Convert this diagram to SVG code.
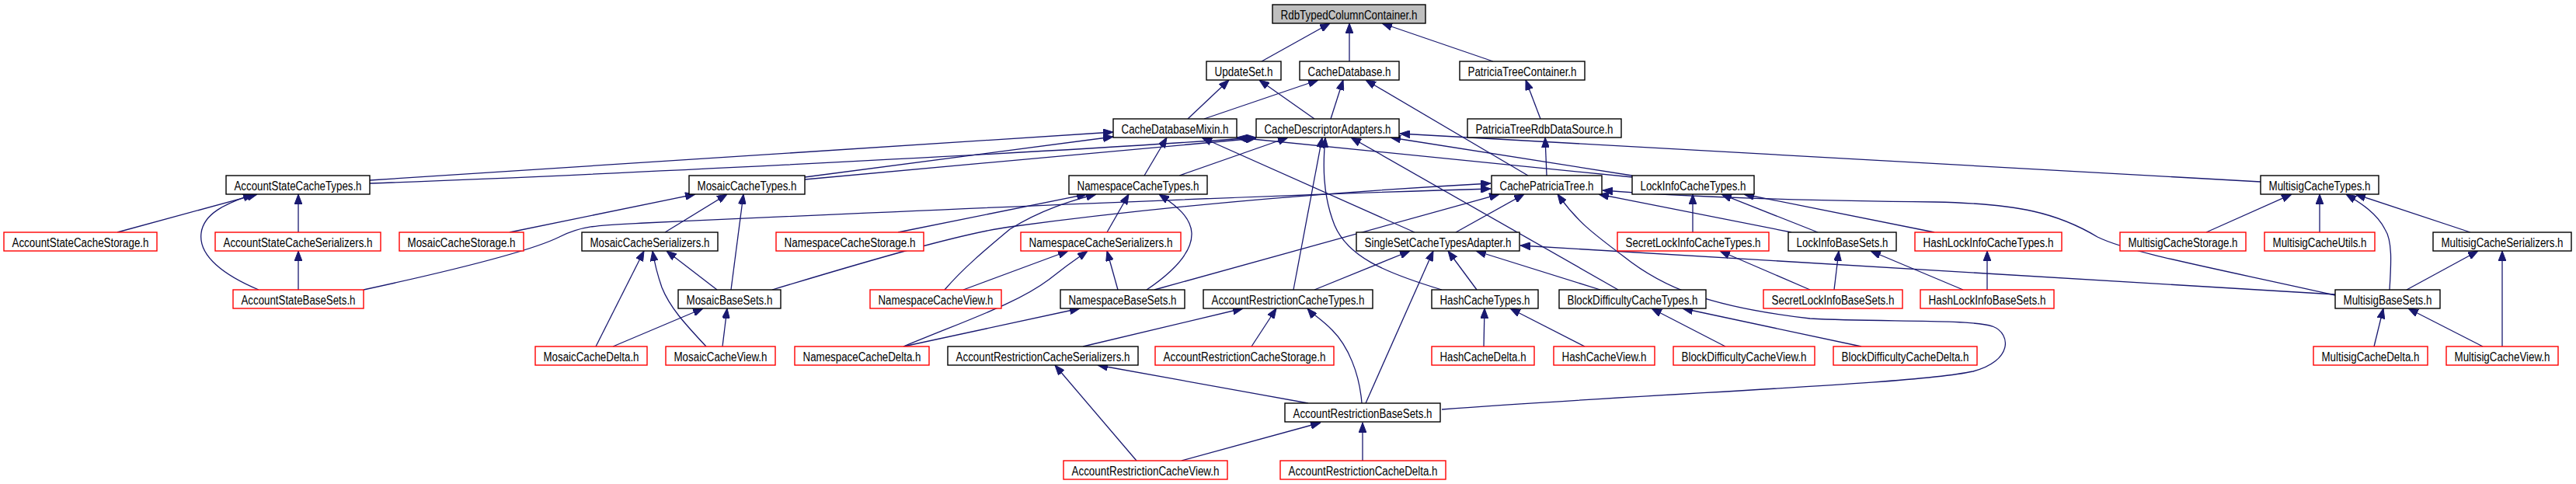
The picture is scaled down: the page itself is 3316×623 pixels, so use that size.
<svg xmlns="http://www.w3.org/2000/svg" width="3316" height="623" viewBox="0 0 3316 623">
<style>
.n rect{fill:#fff;stroke:#000;stroke-width:1.4}
.r rect{stroke:#f00}
.g rect{fill:#bfbfbf}
text{font-family:"Liberation Sans",Arial,Helvetica,sans-serif;font-size:16px;text-anchor:middle;fill:#000}
#edges path{fill:none;stroke:#191970;stroke-width:1.3;marker-end:url(#a)}
</style>
<defs>
<marker id="a" viewBox="0 0 13 10" refX="13" refY="5" markerWidth="13" markerHeight="10" markerUnits="userSpaceOnUse" orient="auto"><path d="M0,0L13,5L0,10z" fill="#191970" stroke="#191970" stroke-width="1"/></marker>
</defs>
<rect width="3316" height="623" fill="#fff"/>
<g id="edges">
<path d="M1624,79L1712,30"/>
<path d="M1737,79L1737,30"/>
<path d="M1922,79L1779,30"/>
<path d="M1529,153L1582,103"/>
<path d="M1692,153L1621,103"/>
<path d="M1550,153L1697,103"/>
<path d="M1713,153L1729,103"/>
<path d="M1967,226L1758,103"/>
<path d="M1983,153L1964,103"/>
<path d="M1991,226L1989,177"/>
<path d="M476,232L1433,170"/>
<path d="M476,236C700,228 1300,200 1617,177"/>
<path d="M1036,228L1433,176"/>
<path d="M1036,231L1617,178"/>
<path d="M1473,226L1502,177"/>
<path d="M1518,226L1658,177"/>
<path d="M2101,228L1592,177"/>
<path d="M2101,226L1790,177"/>
<path d="M2910,234L1802,172"/>
<path d="M1821,299L1547,177"/>
<path d="M1665,373L1702,177"/>
<path d="M1856,373C1780,350 1735,330 1718,290C1702,250 1703,210 1706,177"/>
<path d="M2083,373L1739,177"/>
<path d="M468,373C620,340 690,320 720,305C750,290 770,290 830,287C1200,270 1600,252 1919,243"/>
<path d="M994,373C1120,335 1240,300 1300,292C1500,265 1700,248 1919,236"/>
<path d="M1486,373L1930,250"/>
<path d="M1874,299L1962,250"/>
<path d="M1856,527C2150,505 2460,495 2540,478C2590,465 2590,430 2565,420C2530,410 2420,415 2330,410C2200,395 2140,370 2090,330C2050,300 2030,285 2005,250"/>
<path d="M2306,299L2058,250"/>
<path d="M3006,380C2850,345 2740,325 2700,305C2650,275 2600,262 2490,260C2300,258 2150,252 2063,245"/>
<path d="M2179,299L2179,250"/>
<path d="M2340,299L2216,250"/>
<path d="M2490,299L2245,250"/>
<path d="M151,299L331,250"/>
<path d="M333,373C290,355 255,330 259,300C262,275 290,262 326,250"/>
<path d="M384,299L384,250"/>
<path d="M384,373L384,323"/>
<path d="M656,299L895,250"/>
<path d="M856,299L936,250"/>
<path d="M941,373L957,250"/>
<path d="M923,373L858,323"/>
<path d="M767,446L829,323"/>
<path d="M909,446C880,415 862,395 852,370C845,350 842,335 840,323"/>
<path d="M789,446L905,397"/>
<path d="M930,446L936,397"/>
<path d="M1156,299L1399,250"/>
<path d="M1216,373C1240,345 1270,320 1300,295C1340,270 1380,258 1411,250"/>
<path d="M1425,299L1453,250"/>
<path d="M1476,373C1510,350 1535,325 1534,300C1533,280 1515,265 1492,250"/>
<path d="M1240,373L1375,323"/>
<path d="M1163,446C1250,410 1310,390 1350,360C1375,340 1390,330 1400,323"/>
<path d="M1439,373L1425,323"/>
<path d="M1163,446L1390,397"/>
<path d="M1394,446L1600,397"/>
<path d="M1611,446L1643,397"/>
<path d="M1753,519C1750,480 1735,445 1715,425C1700,410 1690,405 1683,397"/>
<path d="M1463,593L1358,470"/>
<path d="M1684,519L1413,470"/>
<path d="M1521,593L1700,544"/>
<path d="M1754,593L1754,544"/>
<path d="M1692,373L1815,323"/>
<path d="M1758,519L1845,323"/>
<path d="M1901,373L1864,323"/>
<path d="M2060,373L1900,323"/>
<path d="M3006,379L1957,316"/>
<path d="M1910,446L1911,397"/>
<path d="M2040,446L1944,397"/>
<path d="M2221,446L2126,397"/>
<path d="M2396,446L2166,397"/>
<path d="M2330,373L2214,323"/>
<path d="M2361,373L2367,323"/>
<path d="M2527,373L2408,323"/>
<path d="M2558,373L2558,323"/>
<path d="M2840,299L2950,250"/>
<path d="M2986,299L2986,250"/>
<path d="M3076,373C3078,340 3080,310 3070,295C3060,275 3040,262 3020,250"/>
<path d="M3180,299L3032,250"/>
<path d="M3098,373L3190,323"/>
<path d="M3221,446L3221,323"/>
<path d="M3056,446L3068,397"/>
<path d="M3196,446L3100,397"/>
</g>
<g id="RdbTypedColumnContainer" class="n g"><rect x="1638" y="6" width="197" height="24"/><text x="1736.5" y="24.5" textLength="176" lengthAdjust="spacingAndGlyphs">RdbTypedColumnContainer.h</text></g>
<g id="UpdateSet" class="n"><rect x="1553" y="79" width="96" height="24"/><text x="1601" y="97.5" textLength="75" lengthAdjust="spacingAndGlyphs">UpdateSet.h</text></g>
<g id="CacheDatabase" class="n"><rect x="1673" y="79" width="128" height="24"/><text x="1737" y="97.5" textLength="107" lengthAdjust="spacingAndGlyphs">CacheDatabase.h</text></g>
<g id="PatriciaTreeContainer" class="n"><rect x="1879" y="79" width="161" height="24"/><text x="1959.5" y="97.5" textLength="140" lengthAdjust="spacingAndGlyphs">PatriciaTreeContainer.h</text></g>
<g id="CacheDatabaseMixin" class="n"><rect x="1433" y="153" width="159" height="24"/><text x="1512.5" y="171.5" textLength="138" lengthAdjust="spacingAndGlyphs">CacheDatabaseMixin.h</text></g>
<g id="CacheDescriptorAdapters" class="n"><rect x="1617" y="153" width="184" height="24"/><text x="1709" y="171.5" textLength="163" lengthAdjust="spacingAndGlyphs">CacheDescriptorAdapters.h</text></g>
<g id="PatriciaTreeRdbDataSource" class="n"><rect x="1889" y="153" width="198" height="24"/><text x="1988" y="171.5" textLength="177" lengthAdjust="spacingAndGlyphs">PatriciaTreeRdbDataSource.h</text></g>
<g id="AccountStateCacheTypes" class="n"><rect x="291" y="226" width="185" height="24"/><text x="383.5" y="244.5" textLength="164" lengthAdjust="spacingAndGlyphs">AccountStateCacheTypes.h</text></g>
<g id="MosaicCacheTypes" class="n"><rect x="887" y="226" width="149" height="24"/><text x="961.5" y="244.5" textLength="128" lengthAdjust="spacingAndGlyphs">MosaicCacheTypes.h</text></g>
<g id="NamespaceCacheTypes" class="n"><rect x="1376" y="226" width="178" height="24"/><text x="1465" y="244.5" textLength="157" lengthAdjust="spacingAndGlyphs">NamespaceCacheTypes.h</text></g>
<g id="CachePatriciaTree" class="n"><rect x="1920" y="226" width="142" height="24"/><text x="1991" y="244.5" textLength="121" lengthAdjust="spacingAndGlyphs">CachePatriciaTree.h</text></g>
<g id="LockInfoCacheTypes" class="n"><rect x="2101" y="226" width="157" height="24"/><text x="2179.5" y="244.5" textLength="136" lengthAdjust="spacingAndGlyphs">LockInfoCacheTypes.h</text></g>
<g id="MultisigCacheTypes" class="n"><rect x="2910" y="226" width="152" height="24"/><text x="2986" y="244.5" textLength="131" lengthAdjust="spacingAndGlyphs">MultisigCacheTypes.h</text></g>
<g id="AccountStateCacheStorage" class="n r"><rect x="5" y="299" width="197" height="24"/><text x="103.5" y="317.5" textLength="176" lengthAdjust="spacingAndGlyphs">AccountStateCacheStorage.h</text></g>
<g id="AccountStateCacheSerializers" class="n r"><rect x="277" y="299" width="213" height="24"/><text x="383.5" y="317.5" textLength="192" lengthAdjust="spacingAndGlyphs">AccountStateCacheSerializers.h</text></g>
<g id="MosaicCacheStorage" class="n r"><rect x="514" y="299" width="160" height="24"/><text x="594" y="317.5" textLength="139" lengthAdjust="spacingAndGlyphs">MosaicCacheStorage.h</text></g>
<g id="MosaicCacheSerializers" class="n"><rect x="749" y="299" width="175" height="24"/><text x="836.5" y="317.5" textLength="154" lengthAdjust="spacingAndGlyphs">MosaicCacheSerializers.h</text></g>
<g id="NamespaceCacheStorage" class="n r"><rect x="999" y="299" width="190" height="24"/><text x="1094" y="317.5" textLength="169" lengthAdjust="spacingAndGlyphs">NamespaceCacheStorage.h</text></g>
<g id="NamespaceCacheSerializers" class="n r"><rect x="1314" y="299" width="206" height="24"/><text x="1417" y="317.5" textLength="185" lengthAdjust="spacingAndGlyphs">NamespaceCacheSerializers.h</text></g>
<g id="SingleSetCacheTypesAdapter" class="n"><rect x="1746" y="299" width="210" height="24"/><text x="1851" y="317.5" textLength="189" lengthAdjust="spacingAndGlyphs">SingleSetCacheTypesAdapter.h</text></g>
<g id="SecretLockInfoCacheTypes" class="n r"><rect x="2082" y="299" width="195" height="24"/><text x="2179.5" y="317.5" textLength="174" lengthAdjust="spacingAndGlyphs">SecretLockInfoCacheTypes.h</text></g>
<g id="LockInfoBaseSets" class="n"><rect x="2302" y="299" width="139" height="24"/><text x="2371.5" y="317.5" textLength="118" lengthAdjust="spacingAndGlyphs">LockInfoBaseSets.h</text></g>
<g id="HashLockInfoCacheTypes" class="n r"><rect x="2465" y="299" width="189" height="24"/><text x="2559.5" y="317.5" textLength="168" lengthAdjust="spacingAndGlyphs">HashLockInfoCacheTypes.h</text></g>
<g id="MultisigCacheStorage" class="n r"><rect x="2729" y="299" width="162" height="24"/><text x="2810" y="317.5" textLength="141" lengthAdjust="spacingAndGlyphs">MultisigCacheStorage.h</text></g>
<g id="MultisigCacheUtils" class="n r"><rect x="2915" y="299" width="142" height="24"/><text x="2986" y="317.5" textLength="121" lengthAdjust="spacingAndGlyphs">MultisigCacheUtils.h</text></g>
<g id="MultisigCacheSerializers" class="n"><rect x="3132" y="299" width="178" height="24"/><text x="3221" y="317.5" textLength="157" lengthAdjust="spacingAndGlyphs">MultisigCacheSerializers.h</text></g>
<g id="AccountStateBaseSets" class="n r"><rect x="300" y="373" width="168" height="24"/><text x="384" y="391.5" textLength="147" lengthAdjust="spacingAndGlyphs">AccountStateBaseSets.h</text></g>
<g id="MosaicBaseSets" class="n"><rect x="873" y="373" width="132" height="24"/><text x="939" y="391.5" textLength="111" lengthAdjust="spacingAndGlyphs">MosaicBaseSets.h</text></g>
<g id="NamespaceCacheView" class="n r"><rect x="1120" y="373" width="169" height="24"/><text x="1204.5" y="391.5" textLength="148" lengthAdjust="spacingAndGlyphs">NamespaceCacheView.h</text></g>
<g id="NamespaceBaseSets" class="n"><rect x="1365" y="373" width="160" height="24"/><text x="1445" y="391.5" textLength="139" lengthAdjust="spacingAndGlyphs">NamespaceBaseSets.h</text></g>
<g id="AccountRestrictionCacheTypes" class="n"><rect x="1549" y="373" width="218" height="24"/><text x="1658" y="391.5" textLength="197" lengthAdjust="spacingAndGlyphs">AccountRestrictionCacheTypes.h</text></g>
<g id="HashCacheTypes" class="n"><rect x="1843" y="373" width="137" height="24"/><text x="1911.5" y="391.5" textLength="116" lengthAdjust="spacingAndGlyphs">HashCacheTypes.h</text></g>
<g id="BlockDifficultyCacheTypes" class="n"><rect x="2007" y="373" width="189" height="24"/><text x="2101.5" y="391.5" textLength="168" lengthAdjust="spacingAndGlyphs">BlockDifficultyCacheTypes.h</text></g>
<g id="SecretLockInfoBaseSets" class="n r"><rect x="2270" y="373" width="179" height="24"/><text x="2359.5" y="391.5" textLength="158" lengthAdjust="spacingAndGlyphs">SecretLockInfoBaseSets.h</text></g>
<g id="HashLockInfoBaseSets" class="n r"><rect x="2472" y="373" width="172" height="24"/><text x="2558" y="391.5" textLength="151" lengthAdjust="spacingAndGlyphs">HashLockInfoBaseSets.h</text></g>
<g id="MultisigBaseSets" class="n"><rect x="3006" y="373" width="135" height="24"/><text x="3073.5" y="391.5" textLength="114" lengthAdjust="spacingAndGlyphs">MultisigBaseSets.h</text></g>
<g id="MosaicCacheDelta" class="n r"><rect x="689" y="446" width="144" height="24"/><text x="761" y="464.5" textLength="123" lengthAdjust="spacingAndGlyphs">MosaicCacheDelta.h</text></g>
<g id="MosaicCacheView" class="n r"><rect x="857" y="446" width="141" height="24"/><text x="927.5" y="464.5" textLength="120" lengthAdjust="spacingAndGlyphs">MosaicCacheView.h</text></g>
<g id="NamespaceCacheDelta" class="n r"><rect x="1023" y="446" width="173" height="24"/><text x="1109.5" y="464.5" textLength="152" lengthAdjust="spacingAndGlyphs">NamespaceCacheDelta.h</text></g>
<g id="AccountRestrictionCacheSerializers" class="n"><rect x="1220" y="446" width="245" height="24"/><text x="1342.5" y="464.5" textLength="224" lengthAdjust="spacingAndGlyphs">AccountRestrictionCacheSerializers.h</text></g>
<g id="AccountRestrictionCacheStorage" class="n r"><rect x="1487" y="446" width="230" height="24"/><text x="1602" y="464.5" textLength="209" lengthAdjust="spacingAndGlyphs">AccountRestrictionCacheStorage.h</text></g>
<g id="HashCacheDelta" class="n r"><rect x="1843" y="446" width="132" height="24"/><text x="1909" y="464.5" textLength="111" lengthAdjust="spacingAndGlyphs">HashCacheDelta.h</text></g>
<g id="HashCacheView" class="n r"><rect x="2000" y="446" width="130" height="24"/><text x="2065" y="464.5" textLength="109" lengthAdjust="spacingAndGlyphs">HashCacheView.h</text></g>
<g id="BlockDifficultyCacheView" class="n r"><rect x="2154" y="446" width="182" height="24"/><text x="2245" y="464.5" textLength="161" lengthAdjust="spacingAndGlyphs">BlockDifficultyCacheView.h</text></g>
<g id="BlockDifficultyCacheDelta" class="n r"><rect x="2360" y="446" width="185" height="24"/><text x="2452.5" y="464.5" textLength="164" lengthAdjust="spacingAndGlyphs">BlockDifficultyCacheDelta.h</text></g>
<g id="MultisigCacheDelta" class="n r"><rect x="2978" y="446" width="147" height="24"/><text x="3051.5" y="464.5" textLength="126" lengthAdjust="spacingAndGlyphs">MultisigCacheDelta.h</text></g>
<g id="MultisigCacheView" class="n r"><rect x="3149" y="446" width="144" height="24"/><text x="3221" y="464.5" textLength="123" lengthAdjust="spacingAndGlyphs">MultisigCacheView.h</text></g>
<g id="AccountRestrictionBaseSets" class="n"><rect x="1654" y="519" width="200" height="24"/><text x="1754" y="537.5" textLength="179" lengthAdjust="spacingAndGlyphs">AccountRestrictionBaseSets.h</text></g>
<g id="AccountRestrictionCacheView" class="n r"><rect x="1369" y="593" width="211" height="24"/><text x="1474.5" y="611.5" textLength="190" lengthAdjust="spacingAndGlyphs">AccountRestrictionCacheView.h</text></g>
<g id="AccountRestrictionCacheDelta" class="n r"><rect x="1648" y="593" width="213" height="24"/><text x="1754.5" y="611.5" textLength="192" lengthAdjust="spacingAndGlyphs">AccountRestrictionCacheDelta.h</text></g>
</svg>
